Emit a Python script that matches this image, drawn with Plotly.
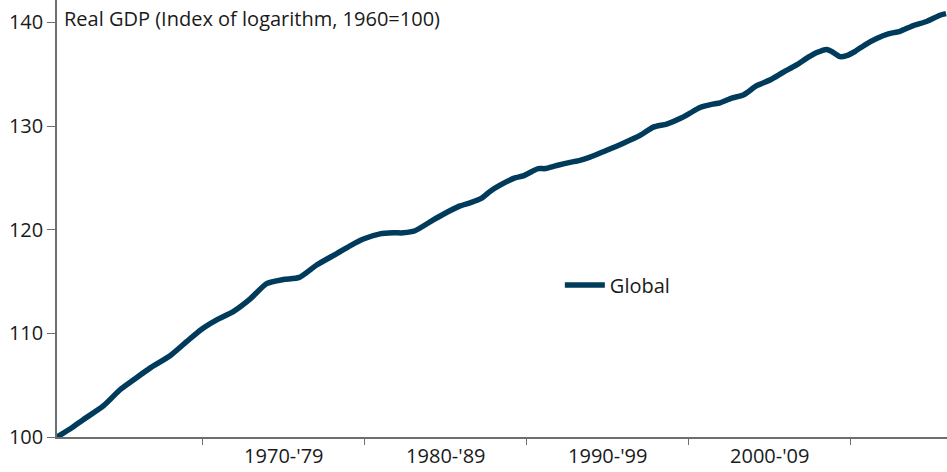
import plotly.graph_objects as go

# Data (year, index value)
years = [1961.00, 1961.80, 1962.62, 1963.86, 1964.89, 1965.71, 1966.74, 1967.98, 1969.00, 1969.93,
         1970.86, 1971.88, 1972.91, 1973.94, 1974.97, 1975.96, 1977.03, 1978.27, 1979.09, 1979.91,
         1980.94, 1981.76, 1982.38, 1983.10, 1984.23, 1984.85, 1985.88, 1986.49, 1987.22, 1987.73,
         1988.35, 1989.27, 1989.78, 1990.71, 1991.12, 1991.85, 1992.67, 1993.28, 1993.90, 1994.83,
         1995.96, 1996.99, 1997.81, 1998.64, 1999.56, 2000.07, 2000.69, 2001.41, 2001.93, 2002.65,
         2003.36, 2004.19, 2005.01, 2005.83, 2006.66, 2007.38, 2007.90, 2008.51, 2008.82, 2009.33,
         2009.75, 2010.26, 2010.88, 2011.60, 2012.32, 2013.04, 2013.86, 2014.68, 2015.51, 2015.88]
global_gdp = [100.0, 100.77, 101.67, 103.0, 104.56, 105.5, 106.65, 107.84, 109.2, 110.4,
              111.3, 112.1, 113.3, 114.8, 115.2, 115.4, 116.6, 117.7, 118.45, 119.1,
              119.6, 119.7, 119.7, 119.9, 120.95, 121.5, 122.3, 122.6, 123.05, 123.7,
              124.3, 125.0, 125.2, 125.9, 125.9, 126.2, 126.5, 126.7, 127.0, 127.6,
              128.35, 129.1, 129.9, 130.2, 130.8, 131.25, 131.8, 132.1, 132.25, 132.7,
              133.0, 133.9, 134.45, 135.2, 135.9, 136.65, 137.1, 137.4, 137.2, 136.7,
              136.8, 137.2, 137.85, 138.45, 138.9, 139.15, 139.7, 140.1, 140.7, 140.85]

decade_labels = ["1970-'79", "1980-'89", "1990-'99", "2000-'09"]
decade_centers = [1975, 1985, 1995, 2005]
y_ticks = [100, 110, 120, 130, 140]

FONT = "Open Sans, Noto Sans, sans-serif"
LINE_COLOR = "#003b5c"
AXIS_COLOR = "#6e6e6e"
TEXT_COLOR = "#1a1a1a"

fig = go.Figure()
fig.add_trace(go.Scatter(
    x=years, y=global_gdp, mode="lines", name="Global",
    line=dict(color=LINE_COLOR, width=5.5, shape="spline", smoothing=0.6),
))

fig.update_layout(
    width=947, height=472,
    margin=dict(l=57, r=0, t=0, b=35),
    paper_bgcolor="white", plot_bgcolor="white",
    font=dict(family=FONT, size=20, color=TEXT_COLOR),
    showlegend=True,
    legend=dict(x=0.565, y=0.348, xanchor="left", yanchor="middle",
                bgcolor="rgba(0,0,0,0)", font=dict(size=20, color=TEXT_COLOR),
                itemwidth=40),
    xaxis=dict(
        range=[1961.0, 2015.94], automargin=False,
        tickmode="array", tickvals=decade_centers, ticktext=decade_labels,
        ticks="", showgrid=False, zeroline=False,
        showline=True, linecolor=AXIS_COLOR, linewidth=1.5,
        minor=dict(tickmode="linear", tick0=1970, dtick=10, ticks="outside",
                   ticklen=6, tickcolor=AXIS_COLOR, tickwidth=1.2, showgrid=False),
        tickfont=dict(size=20, color=TEXT_COLOR),
    ),
    yaxis=dict(
        range=[100, 142.17], automargin=False,
        tickmode="array", tickvals=y_ticks,
        ticks="outside", ticklen=8, tickcolor=AXIS_COLOR, tickwidth=1.2,
        showgrid=False, zeroline=False,
        showline=True, linecolor=AXIS_COLOR, linewidth=1.5,
        tickfont=dict(size=20, color=TEXT_COLOR),
    ),
    annotations=[dict(
        text="Real GDP (Index of logarithm, 1960=100)",
        xref="paper", yref="paper", x=0.006, y=1.0,
        xanchor="left", yanchor="top", yshift=-3, showarrow=False,
        font=dict(size=20, color=TEXT_COLOR, family=FONT),
    )],
)

fig.write_html("out.html", config={"displayModeBar": False},
               post_script="document.body.style.margin='0';")
